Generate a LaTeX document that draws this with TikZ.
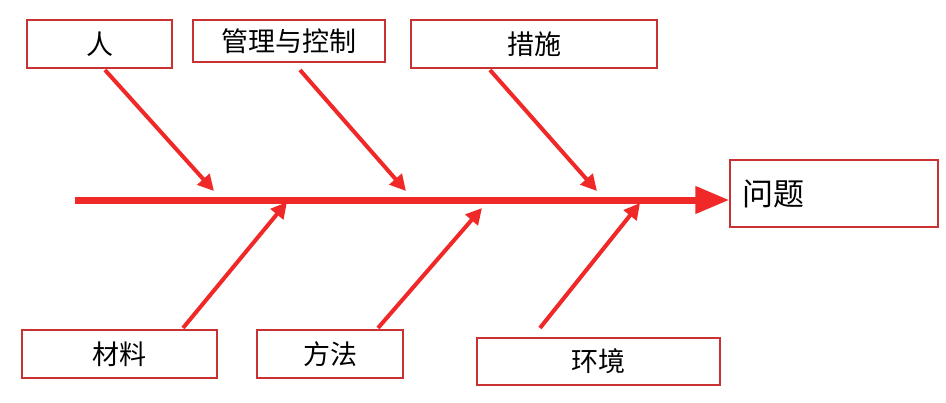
\documentclass[tikz,border=0pt]{standalone}
\usepackage{fontspec}
\setmainfont{Noto Sans CJK SC}
\usetikzlibrary{arrows.meta}
\definecolor{fr}{RGB}{240,40,40}
\definecolor{br}{RGB}{200,50,50}
\begin{document}
\begin{tikzpicture}[x=1pt,y=-1pt,
  lbl/.style={draw=br,line width=1.2pt,fill=white,inner sep=0pt,font=\fontsize{27}{30}\selectfont},
  bone/.style={draw=fr,line width=4pt,-{Triangle[length=16pt,width=16pt]}}]
\useasboundingbox (0,0) rectangle (946,402);
\node[lbl,minimum width=145,minimum height=48] (ren) at (99.5,44) {人};
\node[lbl,minimum width=192,minimum height=42] (gl) at (289,41) {管理与控制};
\node[lbl,minimum width=246,minimum height=48] (cs) at (534,44) {措施};
\node[lbl,minimum width=208,minimum height=67,text width=184,font=\fontsize{31}{34}\selectfont] (wt) at (834,193.5) {问题};
\node[lbl,minimum width=195,minimum height=48] (cl) at (119.5,354) {材料};
\node[lbl,minimum width=146,minimum height=48] (ff) at (330,354) {方法};
\node[lbl,minimum width=243,minimum height=47] (hj) at (598.5,361.5) {环境};
\coordinate (s0) at (75,200);
\draw[draw=fr,line width=7pt,-{Triangle[length=34pt,width=26pt]}] (s0) -- (wt.west |- s0);
\coordinate (a1) at (105,70); \coordinate (b1) at (214,191);
\coordinate (a2) at (300,70); \coordinate (b2) at (406,191);
\coordinate (a3) at (490,70); \coordinate (b3) at (597,191);
\coordinate (a4) at (183,328); \coordinate (b4) at (287,202);
\coordinate (a5) at (378,328); \coordinate (b5) at (482,208);
\coordinate (a6) at (540,328); \coordinate (b6) at (640,203);
\foreach \i in {1,...,6} \draw[bone] (a\i) -- (b\i);
\end{tikzpicture}
\end{document}
